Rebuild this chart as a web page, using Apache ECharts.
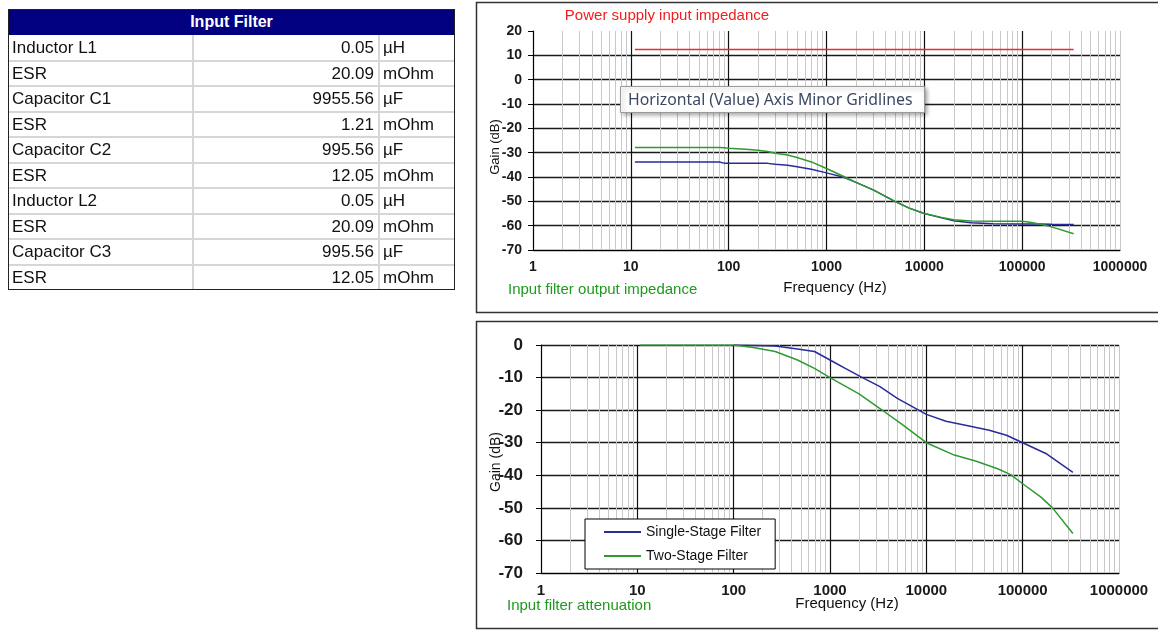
<!DOCTYPE html>
<html>
<head>
<meta charset="utf-8">
<script src="https://cdn.jsdelivr.net/npm/echarts@6/dist/echarts.min.js"></script>
<style>
html,body{margin:0;padding:0;background:#fff;width:1158px;height:631px;overflow:hidden;}
#chart{position:absolute;left:0;top:0;width:1158px;height:631px;}
#tbl{position:absolute;left:0;top:0;width:1158px;height:631px;font-family:"Liberation Sans",Arial,sans-serif;color:#111;pointer-events:none;}
#tbl div{position:absolute;box-sizing:border-box;white-space:nowrap;}
</style>
</head>
<body>
<div id="chart"></div>
<div id="tbl"></div>
<script>
// ---------- Table data ----------
const tableTitle = 'Input Filter';
const paramNames  = ['Inductor L1','ESR','Capacitor C1','ESR','Capacitor C2','ESR','Inductor L2','ESR','Capacitor C3','ESR'];
const paramValues = ['0.05','20.09','9955.56','1.21','995.56','12.05','0.05','20.09','995.56','12.05'];
const paramUnits  = ['µH','mOhm','µF','mOhm','µF','mOhm','µH','mOhm','µF','mOhm'];

// ---------- Top chart data (impedance, dB) ----------
const redFreq  = [11, 336000];
const redGain  = [12.4, 12.4];
const impFreq  = [11, 20, 50, 80, 90, 100, 150, 200, 250, 300, 400, 500, 700, 1000, 1500, 2000, 3000, 5000, 7000, 10000, 15000, 20000, 30000, 50000, 100000, 120000, 150000, 200000, 336000];
const impBlue  = [-33.8,-33.8,-33.8,-33.8,-34.3,-34.3,-34.3,-34.3,-34.4,-34.8,-35.2,-35.8,-36.8,-38.3,-40.1,-42.2,-45.3,-50.0,-52.8,-55.0,-56.8,-58.0,-58.8,-59.2,-59.3,-59.3,-59.3,-59.4,-59.5];
const impGreen = [-27.9,-27.9,-27.9,-27.9,-28.0,-28.2,-28.6,-29.0,-29.5,-30.2,-31.0,-32.0,-33.8,-36.5,-39.8,-42.2,-45.3,-50.0,-52.8,-55.0,-56.6,-57.6,-58.1,-58.2,-58.2,-58.6,-59.3,-60.5,-63.3];

// ---------- Bottom chart data (attenuation, dB) ----------
const singleFreq = [100, 270, 460, 690, 1000, 1440, 2100, 3300, 5000, 10000, 16000, 27000, 45000, 68000, 100000, 174000, 332000];
const singleGain = [0, -0.3, -1.2, -2.0, -4.6, -7.2, -9.8, -12.8, -16.4, -21.3, -23.4, -24.8, -26.2, -27.7, -30.0, -33.3, -39.1];
const twoFreq = [10.7, 100, 160, 270, 460, 690, 1000, 2000, 3300, 5600, 10000, 19500, 33000, 55000, 75000, 100000, 155000, 204000, 332000];
const twoGain = [0, 0, -0.8, -2.0, -4.6, -7.2, -10.0, -15.0, -19.5, -24.4, -30.0, -33.8, -35.7, -38.0, -39.8, -42.6, -46.7, -50.0, -57.9];

const xTickValues = [1, 10, 100, 1000, 10000, 100000, 1000000];

// ---------- Build table ----------
(function(){
  const t = document.getElementById('tbl');
  function add(css, txt){ const d=document.createElement('div'); d.style.cssText=css; if(txt!==undefined) d.textContent=txt; t.appendChild(d); }
  const L=8, T=9, R=455, B=290, HB=35, RH=25.5, C1=193, C2=379;
  add(`left:${L}px;top:${T}px;width:${R-L}px;height:${HB-T}px;background:#000080;color:#fff;font-weight:bold;font-size:16px;text-align:center;line-height:${HB-T}px;`, tableTitle);
  for(let i=0;i<paramNames.length;i++){
    const y = HB + i*RH;
    if(i>0) add(`left:${L}px;top:${y-1}px;width:${R-L}px;height:2px;background:#d6d6d6;`);
    add(`left:${L+4}px;top:${y}px;height:${RH}px;line-height:${RH}px;font-size:17px;`, paramNames[i]);
    add(`left:${C1}px;top:${y}px;width:${C2-C1-5}px;height:${RH}px;line-height:${RH}px;font-size:17px;text-align:right;`, paramValues[i]);
    add(`left:${C2+4}px;top:${y}px;height:${RH}px;line-height:${RH}px;font-size:17px;`, paramUnits[i]);
  }
  add(`left:${C1-1}px;top:${HB}px;width:2px;height:${B-HB}px;background:#d6d6d6;`);
  add(`left:${C2-1}px;top:${HB}px;width:2px;height:${B-HB}px;background:#d6d6d6;`);
  add(`left:${L}px;top:${T}px;width:${R-L}px;height:${B-T}px;border:1.5px solid #222;`);
})();

// ---------- Chart ----------
const FONT = '"Liberation Sans", Arial, sans-serif';
const chart = echarts.init(document.getElementById('chart'), null, {renderer:'canvas'});

const majorX = xTickValues.slice(1, -1);
const minorX = [];
for (let i = 0; i < xTickValues.length - 1; i++) {
  for (let k = 2; k <= 9; k++) minorX.push(k * xTickValues[i]);
}
minorX.push(xTickValues[xTickValues.length - 1]);

function gridLines(){
  return {
    silent: true, symbol: ['none','none'], label: {show:false}, animation: false,
    emphasis: {disabled: true},
    data: minorX.map(v => ({xAxis: v, lineStyle: {color:'#c8c8c8', width:1, type:'solid'}}))
      .concat(majorX.map(v => ({xAxis: v, lineStyle: {color:'#111', width:1.2, type:'solid'}})))
  };
}

function xAxisCfg(gi, fs){
  return {
    type:'log', logBase:10, min:1, max:1000000, gridIndex:gi,
    axisLine:{show:true, onZero:false, lineStyle:{color:'#000', width:1.2}},
    axisTick:{show:false}, splitLine:{show:false}, minorTick:{show:false}, minorSplitLine:{show:false},
    axisLabel:{show:true, showMinLabel:true, showMaxLabel:true, formatter: v => String(Math.round(v)),
      color:'#1a1a1a', fontSize:fs, fontWeight:'bold', fontFamily:FONT, margin:10}
  };
}
function yAxisCfg(gi, max, fs, margin){
  return {
    type:'value', gridIndex:gi, min:-70, max:max, interval:10,
    axisLine:{show:true, lineStyle:{color:'#000', width:1.2}},
    axisTick:{show:true, inside:false, length:5, lineStyle:{color:'#000'}},
    splitLine:{show:true, showMaxLine: max !== 20, lineStyle:{color:'#1a1a1a', width:1.4}},
    axisLabel:{color:'#1a1a1a', fontSize:fs, fontWeight:'bold', fontFamily:FONT, margin:margin}
  };
}
const zip = (xs, ys) => xs.map((x, i) => [x, ys[i]]);

const RED = '#f02828', BLUE = '#2a2a98', GREEN = '#2f9a2f';

const option = {
  animation:false,
  textStyle:{fontFamily:FONT},
  grid:[
    {left:533, top:31, width:587, height:219},
    {left:541, top:345, width:578, height:228}
  ],
  xAxis:[xAxisCfg(0, 14), xAxisCfg(1, 15)],
  yAxis:[yAxisCfg(0, 20, 14, 11), yAxisCfg(1, 0, 17, 18)],
  legend:{
    data:['Single-Stage Filter','Two-Stage Filter'], orient:'vertical', left:585, top:519,
    itemWidth:37, itemHeight:12, itemGap:10, padding:[6,14,6,18],
    borderColor:'#000', borderWidth:1, backgroundColor:'#fff', borderRadius:0,
    itemStyle:{opacity:0},
    textStyle:{fontSize:14, color:'#111', fontFamily:FONT}, z:10
  },
  series:[
    {type:'line', name:'_grid0', xAxisIndex:0, yAxisIndex:0, data:[], z:1, markLine:gridLines()},
    {type:'line', name:'_grid1', xAxisIndex:1, yAxisIndex:1, data:[], z:1, markLine:gridLines()},
    {type:'line', name:'Power supply input impedance', xAxisIndex:0, yAxisIndex:0, data:zip(redFreq, redGain),
      symbol:'none', lineStyle:{color:RED, width:1.5}, itemStyle:{color:RED}, z:5},
    {type:'line', name:'Single-stage output impedance', xAxisIndex:0, yAxisIndex:0, data:zip(impFreq, impBlue),
      symbol:'none', lineStyle:{color:BLUE, width:1.5}, itemStyle:{color:BLUE}, z:5},
    {type:'line', name:'Two-stage output impedance', xAxisIndex:0, yAxisIndex:0, data:zip(impFreq, impGreen),
      symbol:'none', lineStyle:{color:GREEN, width:1.5}, itemStyle:{color:GREEN}, z:5},
    {type:'line', name:'Single-Stage Filter', xAxisIndex:1, yAxisIndex:1, data:zip(singleFreq, singleGain),
      symbol:'none', lineStyle:{color:BLUE, width:1.5}, itemStyle:{color:BLUE}, z:5},
    {type:'line', name:'Two-Stage Filter', xAxisIndex:1, yAxisIndex:1, data:zip(twoFreq, twoGain),
      symbol:'none', lineStyle:{color:GREEN, width:1.5}, itemStyle:{color:GREEN}, z:5}
  ],
  graphic:{z:100, elements:[
    {type:'rect', shape:{x:476.5, y:2.5, width:720, height:310}, style:{fill:null, stroke:'#333', lineWidth:1.5}, silent:true},
    {type:'rect', shape:{x:476.5, y:321.5, width:720, height:307}, style:{fill:null, stroke:'#333', lineWidth:1.5}, silent:true},
    {type:'text', x:667, y:16, style:{text:'Power supply input impedance', font:'15px '+FONT, fill:'#f21d1d', align:'center', verticalAlign:'middle'}},
    {type:'text', x:508, y:290, style:{text:'Input filter output impedance', font:'15px '+FONT, fill:'#1f9a1f', align:'left', verticalAlign:'middle'}},
    {type:'text', x:835, y:288, style:{text:'Frequency (Hz)', font:'15px '+FONT, fill:'#111', align:'center', verticalAlign:'middle'}},
    {type:'text', x:495, y:147, rotation:Math.PI/2, style:{text:'Gain (dB)', font:'13px '+FONT, fill:'#111', align:'center', verticalAlign:'middle'}},
    {type:'text', x:507, y:606, style:{text:'Input filter attenuation', font:'15px '+FONT, fill:'#1f9a1f', align:'left', verticalAlign:'middle'}},
    {type:'text', x:847, y:604, style:{text:'Frequency (Hz)', font:'15px '+FONT, fill:'#111', align:'center', verticalAlign:'middle'}},
    {type:'text', x:496, y:462, rotation:Math.PI/2, style:{text:'Gain (dB)', font:'14px '+FONT, fill:'#111', align:'center', verticalAlign:'middle'}},
    {type:'rect', z:100, shape:{x:620.5, y:86.5, width:304, height:26}, style:{fill:'#fff', stroke:'#9a9a9a', lineWidth:1,
      shadowBlur:4, shadowColor:'rgba(0,0,0,0.3)', shadowOffsetX:2, shadowOffsetY:2}},
    {type:'text', z:101, x:628, y:100, style:{text:'Horizontal (Value) Axis Minor Gridlines', font:'15.8px "Noto Sans", "Open Sans", sans-serif', fill:'#3c4964', align:'left', verticalAlign:'middle'}}
  ]}
};
chart.setOption(option);
</script>
</body>
</html>
